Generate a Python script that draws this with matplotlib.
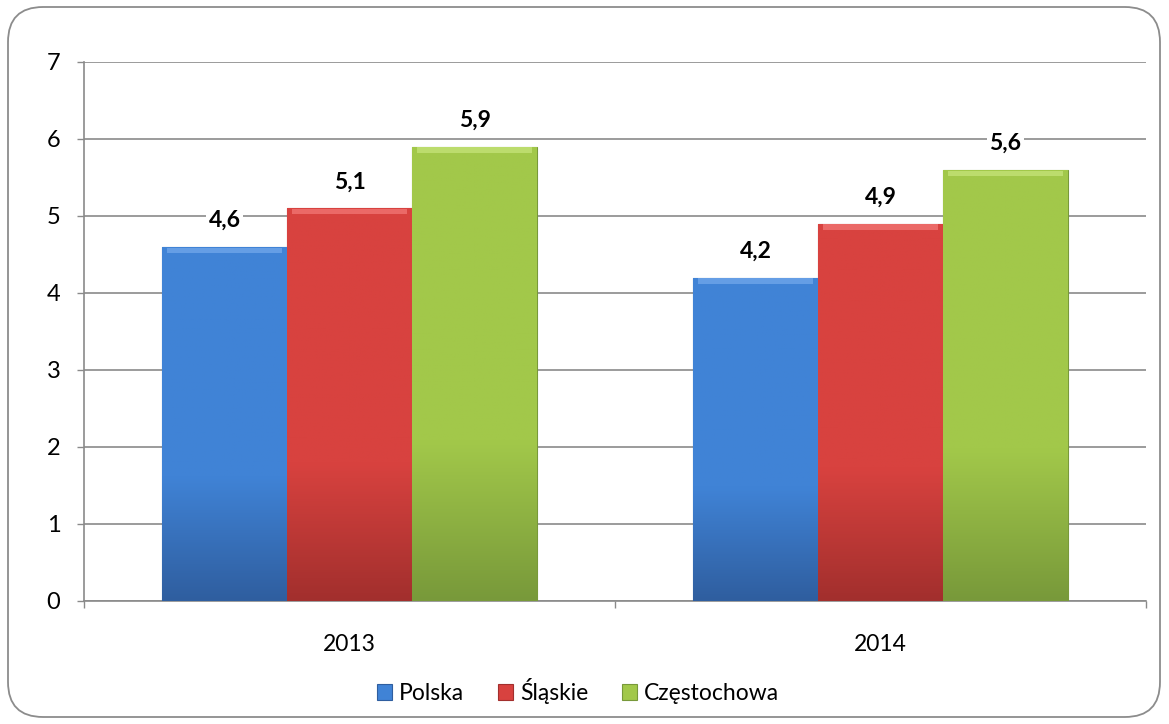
import numpy as np
import matplotlib
matplotlib.use('Agg')
import matplotlib.pyplot as plt
from matplotlib.patches import FancyBboxPatch
from matplotlib.colors import LinearSegmentedColormap

years = ['2013', '2014']
series = ['Polska', 'Śląskie', 'Częstochowa']
polska = [4.6, 4.2]
slaskie = [5.1, 4.9]
czestochowa = [5.9, 5.6]

colors_top = ['#6FA6EA', '#F07472', '#C3E276']
colors_bot = ['#2F5E9F', '#A22F2D', '#78993A']
colors_mid = ['#4083D6', '#D8423F', '#A2C84A']

plt.rcParams['font.family'] = ['Lato', 'DejaVu Sans']

fig = plt.figure(figsize=(11.69, 7.24), dpi=100)
ax = fig.add_axes([0.0719, 0.1699, 0.9084, 0.7445])

# ramka z zaokrąglonymi rogami
frame = FancyBboxPatch((8 / 1169, 7 / 724), 1152 / 1169, 710 / 724,
                       boxstyle='round,pad=0,rounding_size=0.03',
                       transform=fig.transFigure, fill=False,
                       edgecolor='#8C8C8C', linewidth=1.3, mutation_aspect=1169 / 724)
fig.patches.append(frame)

x = np.arange(len(years))
w = 0.2354
values = [polska, slaskie, czestochowa]

for i, vals in enumerate(values):
    bars = ax.bar(x + (i - 1) * w, vals, w, color=colors_mid[i], edgecolor=colors_bot[i],
                  linewidth=0.8, label=series[i], zorder=3)
    cmap = LinearSegmentedColormap.from_list(
        'g%d' % i, [(0, colors_bot[i]), (0.35, colors_mid[i]), (1, colors_mid[i])])
    for b, v in zip(bars, vals):
        x0 = b.get_x()
        x1 = x0 + b.get_width()
        grad = np.linspace(0, 1, 256).reshape(-1, 1)
        im = ax.imshow(grad, extent=(x0, x1, 0, v), origin='lower', cmap=cmap,
                       aspect='auto', zorder=3.5)
        im.set_clip_path(b)
        # jasny pasek u góry (efekt fazy)
        ax.fill_between([x0 + 0.01, x1 - 0.01], v - 0.08, v - 0.01,
                        color=colors_top[i], alpha=0.8, zorder=4, linewidth=0)
        ax.annotate(('%.1f' % v).replace('.', ','), (b.get_x() + b.get_width() / 2, v),
                    xytext=(0, 19), textcoords='offset points', ha='center', va='center',
                    fontsize=16.5, fontweight='bold', zorder=6,
                    bbox=dict(boxstyle='square,pad=0.12', fc='white', ec='none'))

ax.set_xlim(-0.5, 1.5)
ax.set_ylim(0, 7)
ax.set_yticks(range(0, 8))
ax.yaxis.grid(True, color='#8A8A8A', linewidth=1.2, zorder=0)
ax.set_axisbelow(True)

ax.set_xticks(x)
ax.set_xticklabels(years)
ax.set_xticks([-0.5, 0.5, 1.5], minor=True)
ax.tick_params(axis='x', which='major', length=0, pad=24, labelsize=16.5)
ax.tick_params(axis='x', which='minor', length=5, color='#8A8A8A', width=1)
ax.tick_params(axis='y', length=5, color='#8A8A8A', width=1, pad=12, labelsize=17)

for s in ['top', 'right']:
    ax.spines[s].set_visible(False)
for s in ['left', 'bottom']:
    ax.spines[s].set_color('#8A8A8A')
    ax.spines[s].set_linewidth(1.2)

handles, labels = ax.get_legend_handles_labels()
leg = fig.legend(handles, labels, loc='center', bbox_to_anchor=(578 / 1169, 1 - 691 / 724),
                 ncol=3, frameon=False, fontsize=16.5, handlelength=0.65, handleheight=0.65,
                 handletextpad=0.3, columnspacing=1.5)

fig.savefig('out.png', dpi=100)
